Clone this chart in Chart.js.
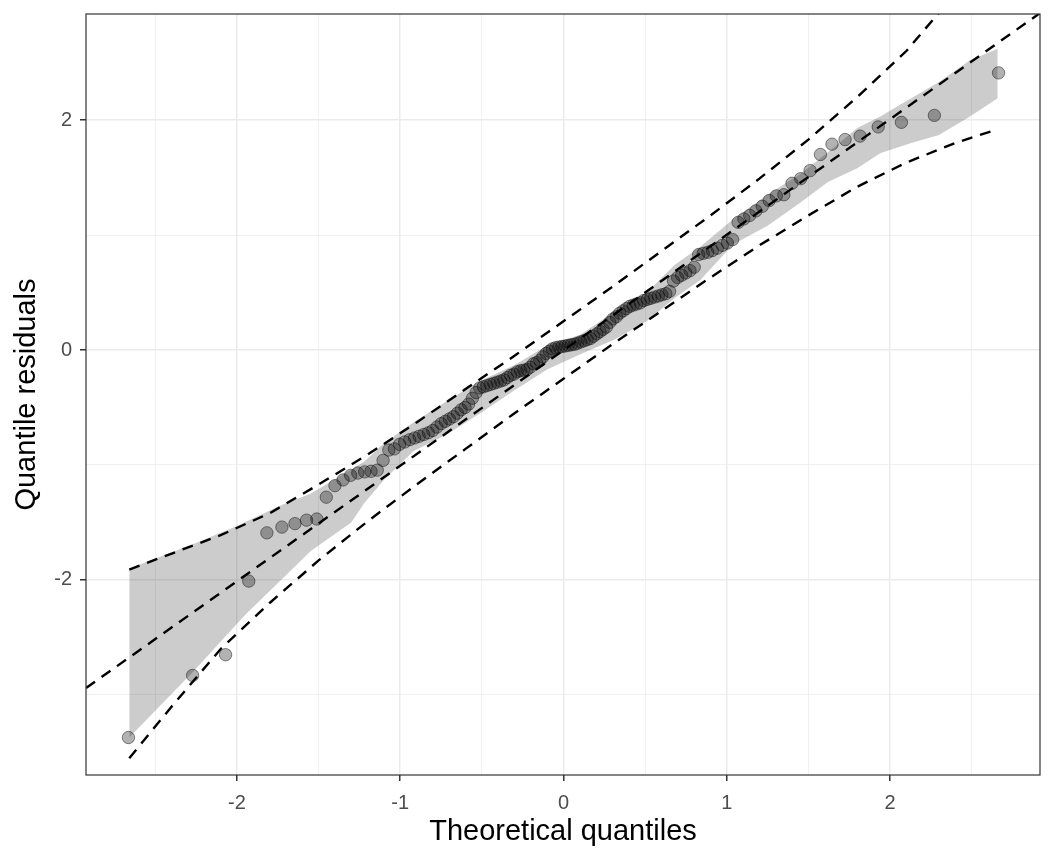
<!DOCTYPE html>
<html>
<head>
<meta charset="utf-8">
<script src="https://cdn.jsdelivr.net/npm/chart.js@4.4.1/dist/chart.umd.min.js"></script>
<style>
  body { margin: 0; background: #fff; }
  canvas { display: block; }
</style>
</head>
<body>
<canvas id="graficaQQ" width="1056" height="864"></canvas>
<script>
const cuantilesTeoricos = [
  -2.665, -2.272, -2.070, -1.928, -1.817, -1.725, -1.645, -1.574, -1.511, -1.453,
  -1.400, -1.350, -1.304, -1.260, -1.218, -1.179, -1.141, -1.105, -1.070, -1.036,
  -1.004, -0.973, -0.942, -0.912, -0.884, -0.856, -0.828, -0.801, -0.775, -0.749,
  -0.724, -0.699, -0.674, -0.650, -0.627, -0.603, -0.581, -0.558, -0.535, -0.513,
  -0.491, -0.470, -0.448, -0.427, -0.406, -0.385, -0.365, -0.344, -0.324, -0.303,
  -0.283, -0.263, -0.243, -0.224, -0.204, -0.184, -0.165, -0.145, -0.126, -0.106,
  -0.087, -0.068, -0.048, -0.029, -0.010, 0.010, 0.029, 0.048, 0.068, 0.087,
  0.106, 0.126, 0.145, 0.165, 0.184, 0.204, 0.224, 0.243, 0.263, 0.283,
  0.303, 0.324, 0.344, 0.365, 0.385, 0.406, 0.427, 0.448, 0.470, 0.491,
  0.513, 0.535, 0.558, 0.581, 0.603, 0.627, 0.650, 0.674, 0.699, 0.724,
  0.749, 0.775, 0.801, 0.828, 0.856, 0.884, 0.912, 0.942, 0.973, 1.004,
  1.036, 1.070, 1.105, 1.141, 1.179, 1.218, 1.260, 1.304, 1.350, 1.400,
  1.453, 1.511, 1.574, 1.645, 1.725, 1.817, 1.928, 2.070, 2.272, 2.665
];

const residuos = [
  -3.37, -2.83, -2.65, -2.01, -1.59, -1.54, -1.51, -1.48, -1.47, -1.28,
  -1.18, -1.13, -1.09, -1.07, -1.06, -1.055, -1.045, -0.96, -0.87, -0.86,
  -0.82, -0.80, -0.78, -0.765, -0.75, -0.735, -0.72, -0.70, -0.67, -0.64,
  -0.62, -0.60, -0.58, -0.55, -0.52, -0.50, -0.47, -0.42, -0.37, -0.33,
  -0.32, -0.31, -0.30, -0.29, -0.28, -0.27, -0.26, -0.24, -0.22, -0.21,
  -0.19, -0.18, -0.175, -0.17, -0.15, -0.12, -0.11, -0.09, -0.06, -0.03,
  -0.01, 0.01, 0.02, 0.025, 0.03, 0.035, 0.04, 0.045, 0.05, 0.06,
  0.07, 0.08, 0.09, 0.10, 0.12, 0.14, 0.16, 0.18, 0.20, 0.24,
  0.27, 0.29, 0.32, 0.34, 0.36, 0.38, 0.39, 0.40, 0.41, 0.43,
  0.44, 0.45, 0.46, 0.47, 0.48, 0.49, 0.51, 0.60, 0.63, 0.65,
  0.67, 0.69, 0.72, 0.83, 0.84, 0.85, 0.865, 0.885, 0.91, 0.93,
  0.96, 1.11, 1.14, 1.17, 1.21, 1.25, 1.30, 1.34, 1.35, 1.45,
  1.49, 1.56, 1.70, 1.79, 1.83, 1.86, 1.94, 1.98, 2.04, 2.41
];

// banda gris (envolvente simulada)
const bandaX = [-2.66, -2.27, -2.0, -1.94, -1.73, -1.55, -1.3, -1.22, -1.1, -0.92, -0.71, -0.51, -0.3, -0.1,
  0.1, 0.31, 0.51, 0.68, 0.84, 1.04, 1.25, 1.45, 1.62, 1.8, 1.94, 2.13, 2.3, 2.49, 2.66];
const bandaSup = [-1.90, -1.69, -1.53, -1.49, -1.35, -1.25, -1.04, -0.97, -0.81, -0.63, -0.44, -0.27, -0.13, 0.04,
  0.13, 0.33, 0.50, 0.74, 0.90, 1.14, 1.35, 1.53, 1.72, 1.93, 2.03, 2.19, 2.33, 2.52, 2.62];
const bandaInf = [-3.37, -2.80, -2.38, -2.29, -2.0, -1.75, -1.50, -1.33, -1.13, -0.88, -0.73, -0.55, -0.35, -0.17,
  -0.04, 0.09, 0.25, 0.45, 0.61, 0.92, 1.08, 1.28, 1.46, 1.58, 1.71, 1.80, 1.87, 2.03, 2.19];

// lineas discontinuas de confianza
const envolventeX = [-2.66, -2.4, -2.1, -1.8, -1.5, -1.2, -0.9, -0.6, -0.3, 0, 0.3, 0.6, 0.9, 1.2, 1.5, 1.8, 2.1, 2.4, 2.66];
const envolventeSup = [-1.91, -1.77, -1.61, -1.42, -1.17, -0.91, -0.63, -0.34, -0.05, 0.25, 0.55, 0.86, 1.17, 1.49, 1.83, 2.20, 2.60, 3.10, 3.56];
const envolventeInf = [-3.55, -3.10, -2.60, -2.20, -1.83, -1.49, -1.17, -0.86, -0.55, -0.25, 0.05, 0.34, 0.63, 0.91, 1.17, 1.42, 1.63, 1.80, 1.92];

const rectaX = [-2.925, 2.919];
const rectaY = [-2.94, 2.93];

const ticksX = [-2, -1, 0, 1, 2];
const menoresX = [-2.5, -1.5, -0.5, 0.5, 1.5, 2.5];
const ticksY = [-2, 0, 2];
const menoresY = [-3, -1, 1];

const fuente = "'Liberation Sans', Arial, Helvetica, sans-serif";

function aPuntos(xs, ys) {
  return xs.map((x, i) => ({ x: x, y: ys[i] }));
}

function lineaDiscontinua(xs, ys) {
  return {
    data: aPuntos(xs, ys),
    showLine: true,
    borderColor: '#000',
    borderWidth: 2.4,
    borderDash: [11, 8],
    pointRadius: 0,
    fill: false,
    tension: 0,
    clip: 0,
    order: 0
  };
}

function rejilla(mayores) {
  return {
    color: '#ebebeb',
    lineWidth: ctx => mayores.includes(ctx.tick.value) ? 1.5 : 0.75,
    tickColor: ctx => mayores.includes(ctx.tick.value) ? '#333333' : 'rgba(0,0,0,0)',
    tickLength: 6,
    tickWidth: 1.5
  };
}

const marcoPanel = {
  id: 'marcoPanel',
  afterDatasetsDraw(chart) {
    const { ctx, chartArea } = chart;
    ctx.save();
    ctx.strokeStyle = '#333333';
    ctx.lineWidth = 1.2;
    ctx.strokeRect(chartArea.left, chartArea.top, chartArea.right - chartArea.left, chartArea.bottom - chartArea.top);
    ctx.restore();
  }
};

const ctx = document.getElementById('graficaQQ').getContext('2d');
const grafica = new Chart(ctx, {
  type: 'scatter',
  data: {
    datasets: [
      lineaDiscontinua(rectaX, rectaY),
      lineaDiscontinua(envolventeX, envolventeSup),
      lineaDiscontinua(envolventeX, envolventeInf),
      {
        data: aPuntos(cuantilesTeoricos, residuos),
        pointRadius: 6.2,
        pointBorderWidth: 1,
        backgroundColor: 'rgba(0,0,0,0.3)',
        borderColor: 'rgba(0,0,0,0.45)',
        order: 1
      },
      {
        data: aPuntos(bandaX, bandaInf),
        showLine: true,
        borderWidth: 0,
        borderColor: 'rgba(0,0,0,0)',
        pointRadius: 0,
        fill: false,
        tension: 0,
        order: 2
      },
      {
        data: aPuntos(bandaX, bandaSup),
        showLine: true,
        borderWidth: 0,
        borderColor: 'rgba(0,0,0,0)',
        backgroundColor: 'rgba(0,0,0,0.2)',
        pointRadius: 0,
        fill: '-1',
        tension: 0,
        order: 2
      }
    ]
  },
  options: {
    responsive: false,
    animation: false,
    layout: { padding: { left: 4, top: 14, right: 16, bottom: 8 } },
    plugins: {
      legend: { display: false },
      tooltip: { enabled: false }
    },
    scales: {
      x: {
        type: 'linear',
        min: -2.925,
        max: 2.919,
        afterBuildTicks: escala => { escala.ticks = ticksX.concat(menoresX).map(v => ({ value: v })); },
        afterFit: escala => {
          escala.height = 81;
          escala.paddingLeft = 0;
          escala.paddingRight = 0;
        },
        grid: rejilla(ticksX),
        border: { display: false },
        ticks: {
          autoSkip: false,
          maxRotation: 0,
          padding: 10,
          color: '#4d4d4d',
          font: { family: fuente, size: 20 },
          callback: valor => ticksX.includes(valor) ? String(valor) : ''
        },
        title: {
          display: true,
          text: 'Theoretical quantiles',
          color: '#000',
          font: { family: fuente, size: 29 },
          padding: { top: 0, bottom: 7 }
        }
      },
      y: {
        type: 'linear',
        min: -3.696,
        max: 2.922,
        afterBuildTicks: escala => { escala.ticks = ticksY.concat(menoresY).map(v => ({ value: v })); },
        afterFit: escala => {
          escala.width = 82;
          escala.paddingTop = 0;
          escala.paddingBottom = 0;
        },
        grid: rejilla(ticksY),
        border: { display: false },
        ticks: {
          autoSkip: false,
          padding: 8,
          color: '#4d4d4d',
          font: { family: fuente, size: 20 },
          callback: valor => ticksY.includes(valor) ? String(valor) : ''
        },
        title: {
          display: true,
          text: 'Quantile residuals',
          color: '#000',
          font: { family: fuente, size: 29 },
          padding: { top: 6, bottom: 0 }
        }
      }
    }
  },
  plugins: [marcoPanel]
});
</script>
</body>
</html>
